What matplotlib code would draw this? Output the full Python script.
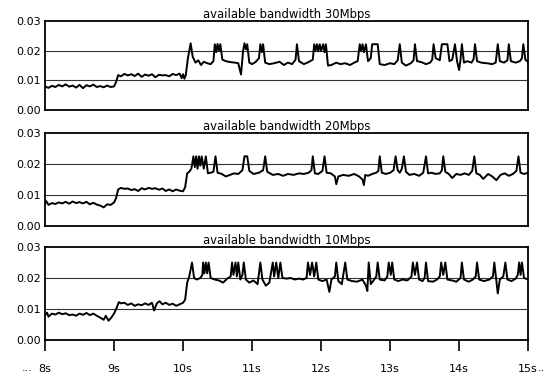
import matplotlib
matplotlib.use("Agg")
import matplotlib.pyplot as plt

# panel titles
titles = ["available bandwidth 30Mbps",
          "available bandwidth 20Mbps",
          "available bandwidth 10Mbps"]

# ── 30 Mbps trace (time in s, value) ───────────────────────────────────────
t30 = [8.00, 8.05, 8.10, 8.15, 8.20, 8.25, 8.30, 8.35, 8.40, 8.45, 8.50, 8.55,
       8.60, 8.65, 8.70, 8.75, 8.80, 8.85, 8.90, 8.95, 9.00, 9.03, 9.06, 9.10,
       9.15, 9.20, 9.25, 9.30, 9.35, 9.40, 9.45, 9.50, 9.55, 9.60, 9.65, 9.70,
       9.75, 9.80, 9.85, 9.90, 9.95, 9.98, 10.00, 10.02, 10.04, 10.07, 10.11,
       10.14, 10.18, 10.22, 10.26, 10.30, 10.35, 10.40, 10.44, 10.46, 10.48,
       10.50, 10.52, 10.54, 10.57, 10.62, 10.68, 10.75, 10.80, 10.84, 10.87,
       10.89, 10.91, 10.93, 10.96, 11.00, 11.05, 11.10, 11.12, 11.14, 11.16,
       11.19, 11.25, 11.32, 11.40, 11.46, 11.52, 11.58, 11.63, 11.65, 11.68,
       11.75, 11.82, 11.88, 11.90, 11.92, 11.94, 11.96, 11.98, 12.00, 12.03,
       12.05, 12.07, 12.10, 12.15, 12.22, 12.28, 12.35, 12.42, 12.48, 12.53,
       12.56, 12.58, 12.60, 12.62, 12.65, 12.68, 12.72, 12.74, 12.82, 12.85,
       12.92, 13.00, 13.06, 13.11, 13.14, 13.17, 13.23, 13.30, 13.34, 13.36,
       13.39, 13.45, 13.52, 13.58, 13.61, 13.63, 13.66, 13.72, 13.75, 13.83,
       13.86, 13.90, 13.94, 13.97, 14.00, 14.02, 14.04, 14.07, 14.12, 14.18,
       14.21, 14.23, 14.26, 14.32, 14.40, 14.48, 14.53, 14.56, 14.59, 14.65,
       14.70, 14.72, 14.75, 14.82, 14.88, 14.91, 14.93, 14.96, 15.00]
v30 = [0.0080, 0.0075, 0.0082, 0.0078, 0.0085, 0.0080, 0.0087, 0.0079, 0.0083,
       0.0076, 0.0085, 0.0074, 0.0084, 0.0080, 0.0086, 0.0078, 0.0081, 0.0077,
       0.0083, 0.0078, 0.0080, 0.0095, 0.0118, 0.0114, 0.0122, 0.0117, 0.0121,
       0.0115, 0.0123, 0.0112, 0.0120, 0.0116, 0.0121, 0.0111, 0.0119, 0.0117,
       0.0118, 0.0114, 0.0122, 0.0118, 0.0123, 0.0108, 0.0121, 0.0106, 0.0118,
       0.0175, 0.0225, 0.0180, 0.0160, 0.0168, 0.0152, 0.0163, 0.0158, 0.0155,
       0.0165, 0.0222, 0.0195, 0.0223, 0.0200, 0.0222, 0.0170, 0.0165, 0.0162,
       0.0160, 0.0158, 0.0120, 0.0200, 0.0225, 0.0205, 0.0222, 0.0160, 0.0155,
       0.0162, 0.0175, 0.0222, 0.0195, 0.0222, 0.0160, 0.0155, 0.0158, 0.0163,
       0.0152, 0.0160, 0.0155, 0.0170, 0.0222, 0.0165, 0.0155, 0.0162, 0.0170,
       0.0222, 0.0200, 0.0222, 0.0198, 0.0222, 0.0200, 0.0222, 0.0195, 0.0222,
       0.0150, 0.0152, 0.0160, 0.0155, 0.0158, 0.0152, 0.0160, 0.0165, 0.0222,
       0.0200, 0.0222, 0.0195, 0.0222, 0.0165, 0.0175, 0.0222, 0.0222, 0.0155,
       0.0152, 0.0158, 0.0155, 0.0168, 0.0222, 0.0160, 0.0150, 0.0158, 0.0168,
       0.0222, 0.0165, 0.0162, 0.0155, 0.0160, 0.0170, 0.0222, 0.0175, 0.0168,
       0.0222, 0.0222, 0.0165, 0.0170, 0.0222, 0.0165, 0.0135, 0.0170, 0.0222,
       0.0160, 0.0165, 0.0160, 0.0172, 0.0222, 0.0165, 0.0160, 0.0158, 0.0155,
       0.0160, 0.0222, 0.0165, 0.0160, 0.0168, 0.0222, 0.0165, 0.0160, 0.0165,
       0.0175, 0.0222, 0.0170, 0.0162]

# ── 20 Mbps trace ──────────────────────────────────────────────────────────
t20 = [8.00, 8.02, 8.05, 8.10, 8.15, 8.20, 8.25, 8.30, 8.35, 8.40, 8.45, 8.50,
       8.55, 8.60, 8.65, 8.70, 8.75, 8.80, 8.85, 8.90, 8.95, 9.00, 9.03, 9.06,
       9.10, 9.15, 9.20, 9.25, 9.30, 9.35, 9.40, 9.45, 9.50, 9.55, 9.60, 9.65,
       9.70, 9.75, 9.80, 9.85, 9.90, 9.95, 10.00, 10.03, 10.06, 10.09, 10.12,
       10.15, 10.17, 10.19, 10.21, 10.23, 10.25, 10.27, 10.30, 10.33, 10.36,
       10.40, 10.44, 10.47, 10.50, 10.56, 10.62, 10.68, 10.74, 10.80, 10.86,
       10.89, 10.93, 10.96, 11.02, 11.10, 11.16, 11.19, 11.22, 11.30, 11.38,
       11.45, 11.52, 11.60, 11.68, 11.75, 11.82, 11.86, 11.88, 11.91, 11.96,
       12.02, 12.05, 12.08, 12.14, 12.20, 12.22, 12.25, 12.32, 12.40, 12.48,
       12.55, 12.60, 12.62, 12.64, 12.68, 12.74, 12.80, 12.83, 12.85, 12.88,
       12.94, 13.00, 13.05, 13.08, 13.11, 13.14, 13.17, 13.20, 13.23, 13.28,
       13.35, 13.42, 13.48, 13.52, 13.55, 13.60, 13.66, 13.72, 13.75, 13.77,
       13.80, 13.85, 13.90, 13.96, 14.02, 14.08, 14.14, 14.19, 14.22, 14.25,
       14.30, 14.35, 14.42, 14.48, 14.54, 14.60, 14.66, 14.72, 14.78, 14.83,
       14.86, 14.89, 14.94, 15.00]
v20 = [0.0072, 0.0080, 0.0068, 0.0074, 0.0071, 0.0076, 0.0073, 0.0078, 0.0072,
       0.0079, 0.0074, 0.0077, 0.0073, 0.0078, 0.0070, 0.0075, 0.0069, 0.0066,
       0.0060, 0.0070, 0.0068, 0.0076, 0.0090, 0.0118, 0.0123, 0.0120, 0.0121,
       0.0116, 0.0119, 0.0113, 0.0122, 0.0118, 0.0123, 0.0120, 0.0122, 0.0117,
       0.0121, 0.0113, 0.0118, 0.0112, 0.0118, 0.0114, 0.0112, 0.0125, 0.0170,
       0.0175, 0.0185, 0.0225, 0.0190, 0.0225, 0.0185, 0.0225, 0.0195, 0.0225,
       0.0185, 0.0225, 0.0170, 0.0172, 0.0175, 0.0225, 0.0172, 0.0168, 0.0160,
       0.0165, 0.0170, 0.0168, 0.0180, 0.0225, 0.0225, 0.0178, 0.0168, 0.0172,
       0.0180, 0.0225, 0.0175, 0.0165, 0.0168, 0.0162, 0.0168, 0.0165, 0.0170,
       0.0168, 0.0172, 0.0180, 0.0225, 0.0170, 0.0168, 0.0178, 0.0225, 0.0172,
       0.0170, 0.0160, 0.0135, 0.0160, 0.0165, 0.0162, 0.0168, 0.0160, 0.0150,
       0.0132, 0.0165, 0.0162, 0.0168, 0.0172, 0.0178, 0.0225, 0.0172, 0.0168,
       0.0172, 0.0180, 0.0225, 0.0180, 0.0172, 0.0185, 0.0225, 0.0175, 0.0165,
       0.0168, 0.0162, 0.0172, 0.0225, 0.0170, 0.0172, 0.0168, 0.0170, 0.0180,
       0.0225, 0.0175, 0.0168, 0.0155, 0.0168, 0.0165, 0.0170, 0.0165, 0.0178,
       0.0225, 0.0170, 0.0165, 0.0152, 0.0168, 0.0160, 0.0148, 0.0165, 0.0170,
       0.0162, 0.0168, 0.0178, 0.0225, 0.0172, 0.0168, 0.0172]

# ── 10 Mbps trace ──────────────────────────────────────────────────────────
t10 = [8.00, 8.03, 8.05, 8.10, 8.15, 8.20, 8.25, 8.30, 8.35, 8.40, 8.45, 8.50,
       8.55, 8.60, 8.65, 8.70, 8.75, 8.80, 8.85, 8.88, 8.92, 8.96, 9.00, 9.04,
       9.07, 9.10, 9.15, 9.20, 9.25, 9.30, 9.35, 9.40, 9.45, 9.50, 9.55, 9.58,
       9.62, 9.66, 9.70, 9.75, 9.80, 9.85, 9.90, 9.95, 10.00, 10.03, 10.06,
       10.09, 10.13, 10.16, 10.20, 10.25, 10.28, 10.29, 10.31, 10.33, 10.35,
       10.37, 10.40, 10.46, 10.52, 10.58, 10.64, 10.69, 10.71, 10.73, 10.76,
       10.78, 10.80, 10.83, 10.86, 10.88, 10.91, 10.96, 11.02, 11.08, 11.12,
       11.15, 11.20, 11.25, 11.30, 11.32, 11.35, 11.38, 11.41, 11.44, 11.50,
       11.56, 11.62, 11.68, 11.74, 11.79, 11.81, 11.84, 11.87, 11.90, 11.93,
       11.96, 12.02, 12.08, 12.12, 12.15, 12.20, 12.22, 12.25, 12.30, 12.35,
       12.38, 12.45, 12.52, 12.60, 12.65, 12.67, 12.69, 12.72, 12.77, 12.80,
       12.82, 12.85, 12.92, 12.96, 12.98, 13.01, 13.03, 13.06, 13.12, 13.18,
       13.25, 13.31, 13.33, 13.36, 13.39, 13.42, 13.47, 13.50, 13.52, 13.55,
       13.62, 13.68, 13.72, 13.74, 13.77, 13.80, 13.83, 13.90, 13.96, 14.02,
       14.04, 14.07, 14.14, 14.20, 14.24, 14.26, 14.29, 14.36, 14.44, 14.49,
       14.51, 14.54, 14.56, 14.59, 14.64, 14.67, 14.70, 14.76, 14.82, 14.85,
       14.87, 14.89, 14.91, 14.94, 15.00]
v10 = [0.0080, 0.0088, 0.0075, 0.0085, 0.0082, 0.0088, 0.0083, 0.0086, 0.0080,
       0.0082, 0.0078, 0.0085, 0.0081, 0.0087, 0.0080, 0.0085, 0.0078, 0.0072,
       0.0065, 0.0078, 0.0062, 0.0072, 0.0085, 0.0105, 0.0122, 0.0118, 0.0120,
       0.0113, 0.0118, 0.0110, 0.0115, 0.0112, 0.0118, 0.0113, 0.0120, 0.0095,
       0.0118, 0.0125, 0.0115, 0.0120, 0.0113, 0.0117, 0.0110, 0.0115, 0.0120,
       0.0130, 0.0185, 0.0205, 0.0250, 0.0200, 0.0195, 0.0200, 0.0210, 0.0250,
       0.0215, 0.0250, 0.0215, 0.0250, 0.0200, 0.0195, 0.0192, 0.0185, 0.0198,
       0.0205, 0.0250, 0.0210, 0.0250, 0.0205, 0.0250, 0.0195, 0.0210, 0.0250,
       0.0195, 0.0185, 0.0192, 0.0180, 0.0250, 0.0195, 0.0175, 0.0185, 0.0250,
       0.0205, 0.0250, 0.0200, 0.0250, 0.0200, 0.0198, 0.0200, 0.0195, 0.0198,
       0.0195, 0.0200, 0.0250, 0.0210, 0.0250, 0.0205, 0.0250, 0.0195, 0.0190,
       0.0195, 0.0155, 0.0195, 0.0205, 0.0250, 0.0190, 0.0180, 0.0250, 0.0195,
       0.0190, 0.0188, 0.0195, 0.0175, 0.0158, 0.0250, 0.0180, 0.0195, 0.0205,
       0.0250, 0.0195, 0.0192, 0.0205, 0.0250, 0.0210, 0.0250, 0.0195, 0.0190,
       0.0195, 0.0192, 0.0205, 0.0250, 0.0210, 0.0250, 0.0195, 0.0190, 0.0200,
       0.0250, 0.0190, 0.0188, 0.0195, 0.0205, 0.0250, 0.0210, 0.0250, 0.0195,
       0.0192, 0.0188, 0.0200, 0.0250, 0.0195, 0.0188, 0.0195, 0.0205, 0.0250,
       0.0195, 0.0190, 0.0195, 0.0205, 0.0250, 0.0190, 0.0150, 0.0195, 0.0205,
       0.0250, 0.0195, 0.0190, 0.0198, 0.0210, 0.0250, 0.0210, 0.0250, 0.0200,
       0.0195]

series = [(t30, v30), (t20, v20), (t10, v10)]

yticks = [0.00, 0.01, 0.02, 0.03]
ylabels = ["0.00", "0.01", "0.02", "0.03"]
xticks = [8, 9, 10, 11, 12, 13, 14, 15]
xlabels = ["8s", "9s", "10s", "11s", "12s", "13s", "14s", "15s"]

plt.rcParams['font.family'] = ['DejaVu Sans']

fig = plt.figure(figsize=(5.49, 3.76), dpi=100)

# axes boxes in figure fractions (left, bottom, width, height)
boxes = [(0.082, 0.707, 0.880, 0.237),
         (0.082, 0.399, 0.880, 0.247),
         (0.082, 0.096, 0.880, 0.247)]

for i, ((t, v), title, box) in enumerate(zip(series, titles, boxes)):
    ax = fig.add_axes(box)
    ax.plot(t, v, color='black', lw=1.4)
    ax.set_xlim(8, 15)
    ax.set_ylim(0, 0.03)
    for g in (0.01, 0.02):
        ax.axhline(g, color='#333333', lw=0.8, zorder=0)
    ax.set_yticks(yticks)
    ax.set_yticklabels(ylabels, fontsize=8)
    ax.tick_params(axis='y', length=0, pad=3)
    for s in ax.spines.values():
        s.set_linewidth(1.3)
    ax.set_title(title, fontsize=8.4, pad=2)
    if i < 2:
        ax.set_xticks([])
    else:
        ax.set_xticks(xticks)
        ax.set_xticklabels(xlabels, fontsize=8)
        ax.tick_params(axis='x', direction='out', length=8, width=1.2, pad=9)
        ax.text(-0.025, -0.335, "...", transform=ax.transAxes,
                fontsize=8, ha='right', va='baseline')
        ax.text(1.019, -0.335, "..", transform=ax.transAxes,
                fontsize=8, ha='left', va='baseline')

fig.savefig('out.png', dpi=100)
